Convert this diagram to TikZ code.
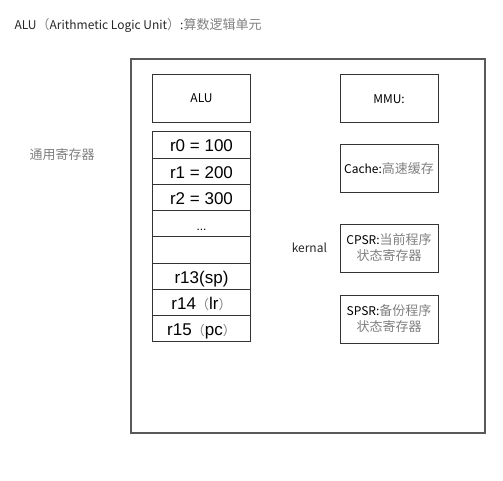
\documentclass[tikz,border=0pt]{standalone}
\usepackage{fontspec}
\usepackage{xcolor}
\setmainfont{Liberation Sans}
\newfontfamily\cjk{Noto Sans CJK SC}
\usetikzlibrary{positioning}

\newcommand{\hanzi}[1]{{\cjk\fontsize{13}{15}\selectfont\color{black!50}#1}}

\begin{document}
\begin{tikzpicture}[x=1pt, y=-1pt, node distance=26.25pt, align=center,
	frame/.style={rectangle, draw=black!65, line width=1.2pt, minimum width=354pt, minimum height=374pt},
	unit/.style={rectangle, draw=black!80, line width=1pt, minimum width=98pt, minimum height=48pt, inner sep=1pt, font=\cjk\fontsize{12}{16}\selectfont},
	reg/.style={rectangle, draw=black!80, line width=1pt, outer sep=0pt, minimum width=98pt, minimum height=26.25pt, inner sep=0pt, text height=14.5pt, text depth=0.5pt, font=\fontsize{17}{18}\selectfont},
	note/.style={font=\cjk\fontsize{12}{14}\selectfont, text=black!85},
]
\useasboundingbox (0,0) rectangle (503,481);
\node [note, anchor=west] (title) at (11,25) {ALU\hanzi{（}Arithmetic Logic Unit\hanzi{）}:\hanzi{算数逻辑单元}};
\node [frame] (cpu) at (308,246) {};
\node [note] (gpr) at (62,155) {\hanzi{通用寄存器}};
%
\node [unit] (ALU) at (201.5,98.5) {ALU};
\node [reg] (r0)  at (201.5,145) {r0 = 100};
\node [reg] (r1)  [below of=r0]  {r1 = 200};
\node [reg] (r2)  [below of=r1]  {r2 = 300};
\node [reg] (dots) [below of=r2] {\fontsize{12}{12}\selectfont ...};
\node [reg] (gap) [below of=dots] {};
\node [reg] (r13) [below of=gap] {r13(sp)};
\node [reg] (r14) [below of=r13] {r14\hanzi{（}lr\hanzi{）}};
\node [reg] (r15) [below of=r14] {r15\hanzi{（}pc\hanzi{）}};
%
\node [unit] (MMU)   at (389,99) {MMU:};
\node [unit] (cache) [below=21pt of MMU] {Cache:\hanzi{高速缓存}};
\node [unit] (CPSR)  [below=30pt of cache] {CPSR:\hanzi{当前程序}\\\hanzi{状态寄存器}};
\node [unit] (SPSR)  [below=22pt of CPSR] {SPSR:\hanzi{备份程序}\\\hanzi{状态寄存器}};
\node [note] (kernal) [left=9pt of CPSR] {kernal};
\end{tikzpicture}
\end{document}
